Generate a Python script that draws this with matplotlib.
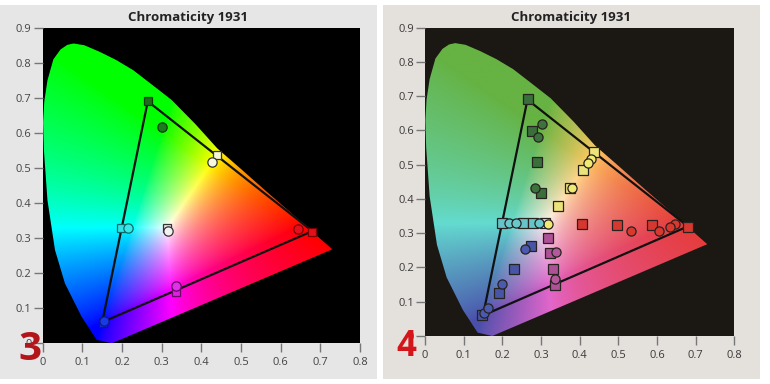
import numpy as np
import matplotlib
matplotlib.use("Agg")
import matplotlib.pyplot as plt
from matplotlib.patches import Polygon, Rectangle

plt.rcParams['font.family'] = ['Open Sans', 'DejaVu Sans']

# horseshoe outline as drawn in the screenshot (x, y)
locus_x = [0.174, 0.136, 0.098, 0.056, 0.031, 0.012, 0.003, 0.001, 0.004, 0.012, 0.027,
           0.045, 0.062, 0.078, 0.105, 0.144, 0.185, 0.228, 0.275, 0.325, 0.385, 0.440,
           0.500, 0.560, 0.620, 0.670, 0.700, 0.730]
locus_y = [0.000, 0.010, 0.076, 0.171, 0.266, 0.408, 0.551, 0.630, 0.690, 0.750, 0.810,
           0.838, 0.851, 0.855, 0.850, 0.831, 0.808, 0.779, 0.738, 0.694, 0.625, 0.556,
           0.497, 0.437, 0.378, 0.328, 0.298, 0.268]

xtick_vals = [0, 0.1, 0.2, 0.3, 0.4, 0.5, 0.6, 0.7, 0.8]
xtick_labels = ['0', '0.1', '0.2', '0.3', '0.4', '0.5', '0.6', '0.7', '0.8']
ytick_vals = [0, 0.1, 0.2, 0.3, 0.4, 0.5, 0.6, 0.7, 0.8, 0.9]
ytick_labels = ['0', '0.1', '0.2', '0.3', '0.4', '0.5', '0.6', '0.7', '0.8', '0.9']

# gamut triangle (green, red, blue)
gamut_x = [0.265, 0.680, 0.150, 0.265]
gamut_y = [0.690, 0.320, 0.060, 0.690]

# panel 3: targets (squares) and measured (circles)
# order: green, yellow, red, cyan, magenta, blue, white
p3_sq_x = [0.265, 0.439, 0.680, 0.197, 0.336, 0.151, 0.313]
p3_sq_y = [0.690, 0.537, 0.318, 0.330, 0.147, 0.059, 0.328]
p3_ci_x = [0.300, 0.428, 0.644, 0.216, 0.335, 0.155, 0.317]
p3_ci_y = [0.618, 0.516, 0.325, 0.328, 0.162, 0.065, 0.321]

# panel 4: saturation sweeps
p4_green_sq_x = [0.266, 0.276, 0.289, 0.300]
p4_green_sq_y = [0.691, 0.599, 0.509, 0.418]
p4_green_ci_x = [0.302, 0.291, 0.284]
p4_green_ci_y = [0.619, 0.582, 0.431]
p4_yellow_sq_x = [0.438, 0.408, 0.375, 0.343]
p4_yellow_sq_y = [0.538, 0.485, 0.433, 0.379]
p4_yellow_ci_x = [0.429, 0.422, 0.381, 0.319]
p4_yellow_ci_y = [0.516, 0.504, 0.433, 0.326]
p4_red_sq_x = [0.679, 0.586, 0.496, 0.405]
p4_red_sq_y = [0.319, 0.324, 0.324, 0.327]
p4_red_ci_x = [0.647, 0.634, 0.605, 0.534]
p4_red_ci_y = [0.326, 0.319, 0.306, 0.306]
p4_cyan_sq_x = [0.198, 0.254, 0.280]
p4_cyan_sq_y = [0.331, 0.331, 0.331]
p4_cyan_ci_x = [0.216, 0.235, 0.296]
p4_cyan_ci_y = [0.331, 0.331, 0.329]
p4_magenta_sq_x = [0.336, 0.330, 0.323, 0.319]
p4_magenta_sq_y = [0.149, 0.196, 0.241, 0.285]
p4_magenta_ci_x = [0.336, 0.339]
p4_magenta_ci_y = [0.166, 0.244]
p4_blue_sq_x = [0.148, 0.191, 0.230, 0.273]
p4_blue_sq_y = [0.061, 0.126, 0.195, 0.263]
p4_blue_ci_x = [0.153, 0.162, 0.198, 0.259]
p4_blue_ci_y = [0.066, 0.081, 0.151, 0.253]
p4_white_sq_x = [0.310]
p4_white_sq_y = [0.329]


def diagram_rgb(n=500):
    xs = np.linspace(0, 0.8, n)
    ys = np.linspace(0, 0.9, n)
    X, Y = np.meshgrid(xs, ys)
    xyz = np.stack([X, Y, 1 - X - Y], axis=-1)
    m = np.array([[3.2406, -1.5372, -0.4986],
                  [-0.9689, 1.8758, 0.0415],
                  [0.0557, -0.2040, 1.0570]])
    rgb = np.clip(xyz @ m.T, 0, None)
    rgb = rgb / np.clip(rgb.max(axis=-1, keepdims=True), 1e-6, None)
    return np.clip(rgb, 0, 1) ** 0.75


def setup_axes(ax, bg, label_color):
    ax.set_facecolor(bg)
    ax.set_xlim(0, 0.8)
    ax.set_ylim(0, 0.9)
    ax.set_xticks(xtick_vals)
    ax.set_xticklabels(xtick_labels)
    ax.set_yticks(ytick_vals)
    ax.set_yticklabels(ytick_labels)
    ax.tick_params(length=6.5, width=1, color='#777777', labelcolor=label_color,
                   labelsize=8)
    ax.tick_params(axis='x', pad=3.5)
    ax.tick_params(axis='y', pad=1.5)
    for s in ax.spines.values():
        s.set_visible(False)


def draw_locus(ax, rgb):
    im = ax.imshow(rgb, extent=[0, 0.8, 0, 0.9], origin='lower',
                   interpolation='bilinear', aspect='auto', zorder=1)
    poly = Polygon(np.column_stack([locus_x, locus_y]), closed=True,
                   transform=ax.transData)
    im.set_clip_path(poly)


fig = plt.figure(figsize=(7.7, 3.84), dpi=100)
fig.patch.set_facecolor('white')
fig.add_artist(Rectangle((0, 5 / 384), 377 / 770, 374 / 384, transform=fig.transFigure,
                         facecolor='#e6e6e6', edgecolor='none', zorder=-10))
fig.add_artist(Rectangle((383 / 770, 5 / 384), 377 / 770, 374 / 384, transform=fig.transFigure,
                         facecolor='#e4e0dc', edgecolor='none', zorder=-10))

base = diagram_rgb()

# ---- panel 3 ----
ax1 = fig.add_axes([42.7 / 770, 40.7 / 384, 317.3 / 770, 315.6 / 384])
setup_axes(ax1, 'black', '#444444')
draw_locus(ax1, base)
ax1.plot(gamut_x, gamut_y, color='#111111', lw=1.6, zorder=3)

sq_fill = ['#1e6b1e', '#f6f6d6', '#e3101c', '#2ee4e4', '#e020e0', '#1535e0', '#e6e6e6']
sq_edge = ['#0c3c0c', '#333333', '#7a0000', '#0b6b6b', '#6a0a6a', '#0a1a80', '#333333']
ci_fill = ['#1e7a1e', '#f8f8dc', '#e3101c', '#38e8e8', '#e030e8', '#1a3ae6', '#f2f2f2']
for i in range(len(p3_sq_x)):
    ax1.plot(p3_sq_x[i], p3_sq_y[i], 's', ms=6.4, mfc=sq_fill[i], mec=sq_edge[i],
             mew=0.9, zorder=4)
for i in range(len(p3_ci_x)):
    ax1.plot(p3_ci_x[i], p3_ci_y[i], 'o', ms=6.7, mfc=ci_fill[i], mec=sq_edge[i],
             mew=0.9, zorder=5)

fig.text(188 / 770, 1 - 17 / 384, 'Chromaticity 1931', ha='center', va='center',
         fontsize=9.5, fontweight='bold', color='#222222')
fig.text(29.5 / 770, 1 - 350 / 384, '3', ha='center', va='center', fontsize=29,
         fontweight='bold', color='#b3161a', zorder=10)

# ---- panel 4 ----
ax2 = fig.add_axes([425 / 770, 48 / 384, 309.3 / 770, 308.3 / 384])
setup_axes(ax2, '#1b1713', '#3a3a3a')
# printed look: map primaries and white onto the duller tones of the scan
red_t = np.array([0.90, 0.24, 0.24])
green_t = np.array([0.40, 0.70, 0.26])
blue_t = np.array([0.29, 0.31, 0.67])
white_t = np.array([0.99, 0.95, 0.94])
off = (red_t + green_t + blue_t - white_t) / 2
mix = np.column_stack([red_t - off, green_t - off, blue_t - off])
muted = base @ mix.T + off
draw_locus(ax2, np.clip(muted, 0, 1))
ax2.plot(gamut_x, gamut_y, color='#111111', lw=1.6, zorder=3)

edge = '#262220'
sets = [
    (p4_green_sq_x, p4_green_sq_y, 's', '#3a6e3a'),
    (p4_yellow_sq_x, p4_yellow_sq_y, 's', '#ece37a'),
    (p4_red_sq_x, p4_red_sq_y, 's', '#d6372f'),
    (p4_cyan_sq_x, p4_cyan_sq_y, 's', '#66c4c8'),
    (p4_magenta_sq_x, p4_magenta_sq_y, 's', '#ae5196'),
    (p4_blue_sq_x, p4_blue_sq_y, 's', '#4855a6'),
    (p4_white_sq_x, p4_white_sq_y, 's', '#e8e4e0'),
    (p4_green_ci_x, p4_green_ci_y, 'o', '#3d713d'),
    (p4_yellow_ci_x, p4_yellow_ci_y, 'o', '#f0ea70'),
    (p4_red_ci_x, p4_red_ci_y, 'o', '#d8392f'),
    (p4_cyan_ci_x, p4_cyan_ci_y, 'o', '#6ac8cc'),
    (p4_magenta_ci_x, p4_magenta_ci_y, 'o', '#b4589c'),
    (p4_blue_ci_x, p4_blue_ci_y, 'o', '#4b5aae'),
]
for xs, ys, mk, c in sets:
    ax2.plot(xs, ys, mk, ls='none', ms=6.6, mfc=c, mec=edge, mew=0.9,
             zorder=5 if mk == 'o' else 4)

fig.text(571 / 770, 1 - 17 / 384, 'Chromaticity 1931', ha='center', va='center',
         fontsize=9.5, fontweight='bold', color='#222222')
fig.text(406.5 / 770, 1 - 347.5 / 384, '4', ha='center', va='center', fontsize=25,
         fontweight='bold', color='#d4161a', zorder=10)

fig.savefig('out.png', dpi=100)
